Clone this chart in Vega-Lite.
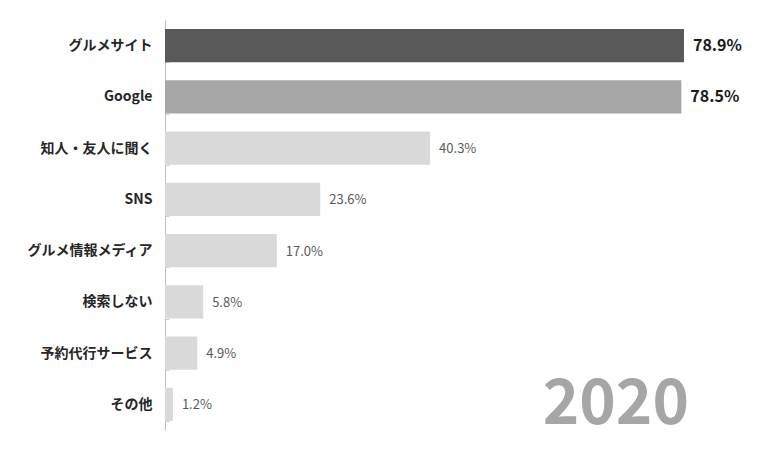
{
  "$schema": "https://vega.github.io/schema/vega-lite/v6.json",
  "width": 592,
  "height": 410,
  "autosize": {"type": "none"},
  "padding": {"left": 165, "top": 20, "right": 4, "bottom": 21},
  "background": "white",
  "config": {"view": {"stroke": null}, "font": "Noto Sans CJK JP"},
  "title": {
    "text": "2020",
    "orient": "bottom",
    "anchor": "end",
    "fontSize": 62,
    "fontWeight": "bold",
    "color": "#a6a6a6",
    "baseline": "alphabetic",
    "offset": 0,
    "dx": -68,
    "dy": -6
  },
  "data": {
    "values": [
      {"item": "グルメサイト", "value": 78.9, "label": "78.9%"},
      {"item": "Google", "value": 78.5, "label": "78.5%"},
      {"item": "知人・友人に聞く", "value": 40.3, "label": "40.3%"},
      {"item": "SNS", "value": 23.6, "label": "23.6%"},
      {"item": "グルメ情報メディア", "value": 17.0, "label": "17.0%"},
      {"item": "検索しない", "value": 5.8, "label": "5.8%"},
      {"item": "予約代行サービス", "value": 4.9, "label": "4.9%"},
      {"item": "その他", "value": 1.2, "label": "1.2%"}
    ]
  },
  "encoding": {
    "y": {
      "field": "item",
      "type": "nominal",
      "sort": null,
      "scale": {"paddingInner": 0.35, "paddingOuter": 0.175},
      "axis": {
        "title": null,
        "labelFontSize": 14,
        "labelFontWeight": "bold",
        "labelColor": "#262626",
        "labelPadding": 17,
        "domainColor": "#bfbfbf",
        "domainWidth": 1,
        "ticks": true,
        "tickBand": "extent",
        "tickColor": "#d0d0d0",
        "tickSize": -4
      }
    },
    "x": {
      "field": "value",
      "type": "quantitative",
      "scale": {"domain": [0, 90]},
      "axis": null
    }
  },
  "layer": [
    {
      "mark": {"type": "bar"},
      "encoding": {
        "color": {
          "field": "item",
          "type": "nominal",
          "legend": null,
          "scale": {
            "domain": ["グルメサイト", "Google", "知人・友人に聞く", "SNS", "グルメ情報メディア", "検索しない", "予約代行サービス", "その他"],
            "range": ["#595959", "#a6a6a6", "#d9d9d9", "#d9d9d9", "#d9d9d9", "#d9d9d9", "#d9d9d9", "#d9d9d9"]
          }
        }
      }
    },
    {
      "transform": [{"filter": "datum.value > 50"}],
      "mark": {"type": "text", "align": "left", "baseline": "middle", "dx": 9, "fontSize": 16, "fontWeight": "bold", "color": "#1a1a1a"},
      "encoding": {"text": {"field": "label"}}
    },
    {
      "transform": [{"filter": "datum.value <= 50"}],
      "mark": {"type": "text", "align": "left", "baseline": "middle", "dx": 9, "dy": 1, "fontSize": 13, "color": "#595959"},
      "encoding": {"text": {"field": "label"}}
    }
  ]
}
